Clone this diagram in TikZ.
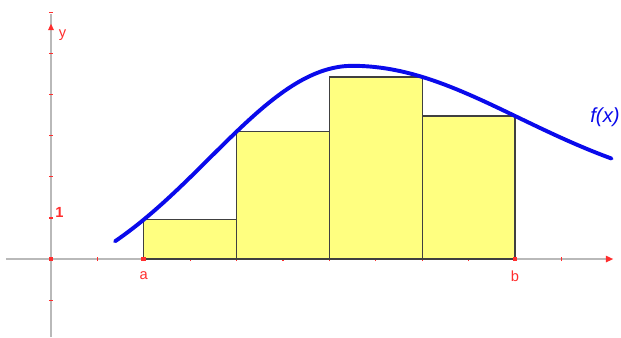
\documentclass[tikz,border=0pt]{standalone}
\usepackage{fontspec}
\setsansfont{Liberation Sans}
\usetikzlibrary{arrows.meta}
\definecolor{axisgray}{RGB}{185,185,185}
\definecolor{barfill}{RGB}{255,255,128}
\definecolor{tickred}{RGB}{255,45,45}
\definecolor{curveblue}{RGB}{10,10,235}

\begin{document}
\begin{tikzpicture}[x=1cm,y=0.8858cm,
  axis/.style={axisgray,line width=1.2pt},
  tick/.style={tickred,line width=0.7pt},
  bar/.style={fill=barfill,draw=black!75,line width=0.7pt},
  lbl/.style={text=tickred,font=\sffamily\fontsize{9}{9}\selectfont}]
\useasboundingbox (-1.099,-1.898) rectangle (12.284,6.302);

% axes
\draw[axis,-{Triangle[tickred,length=4.6pt,width=3.8pt]}] (-0.97,0) -- (12.12,0);
\draw[axis] (0,-1.9) -- (0,5.96);
\fill[tickred] (-0.065,5.57) -- (0.065,5.57) -- (0,5.72) -- cycle;

% ticks
\foreach \i in {1,...,11}
  \draw[tick] (\i,-0.05) -- (\i,0.05);
\foreach \j in {-1,1,2,3,4,5,6}
  \draw[tick] (-0.045,\j) -- (0.045,\j);

% lower sum rectangles
\draw[bar] (2,0) rectangle (4,0.96);
\draw[bar] (4,0) rectangle (6,3.10);
\draw[bar] (6,0) rectangle (8,4.43);
\draw[bar] (8,0) rectangle (10,3.48);

% marked points
\fill[tickred] (-0.05,-0.055) rectangle (0.05,0.055);
\fill[tickred] (1.95,-0.055) rectangle (2.05,0.055);
\fill[tickred] (9.95,-0.055) rectangle (10.05,0.055);

% graph of f
\draw[curveblue,line width=2.4pt,line cap=round]
  plot[domain=1.38:6.5,samples=60] (\x,{-1+5.7*exp(-(\x-6.5)^2/18.97)})
  -- plot[domain=6.5:12.08,samples=60] (\x,{1.5+3.2*exp(-(\x-6.5)^2/25.52)});

% labels
\node[lbl] (lbla) at (2,-0.41) {a};
\node[lbl] (lblb) at (10,-0.41) {b};
\node[lbl] (lblone) at (0.18,1.14) {\bfseries 1};
\node[lbl] (lbly) at (0.25,5.45) {y};
\node[text=curveblue,font=\sffamily\itshape\fontsize{12.5}{12.5}\selectfont] (lblf) at (11.94,3.45) {f(x)};
\end{tikzpicture}
\end{document}
